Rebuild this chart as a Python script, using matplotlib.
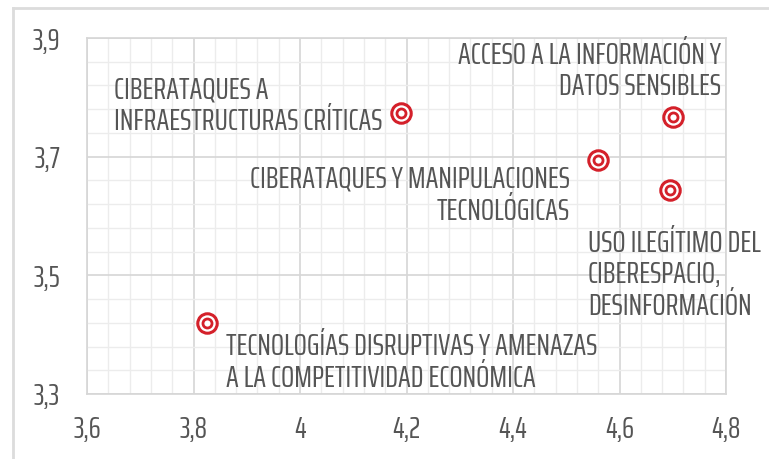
import matplotlib
matplotlib.use("Agg")
import matplotlib.pyplot as plt
from matplotlib.lines import Line2D
from matplotlib.ticker import MultipleLocator, FuncFormatter

# riesgos: probabilidad (x) frente a impacto (y)
labels = [
    "CIBERATAQUES A\nINFRAESTRUCTURAS CRÍTICAS",
    "ACCESO A LA INFORMACIÓN Y\nDATOS SENSIBLES",
    "CIBERATAQUES Y MANIPULACIONES\nTECNOLÓGICAS",
    "USO ILEGÍTIMO DEL\nCIBERESPACIO,\nDESINFORMACIÓN",
    "TECNOLOGÍAS DISRUPTIVAS Y AMENAZAS\nA LA COMPETITIVIDAD ECONÓMICA",
]
x_vals = [4.19, 4.70, 4.56, 4.695, 3.825]
y_vals = [3.774, 3.767, 3.694, 3.644, 3.42]

# colocación de cada etiqueta (desplazamiento en píxeles, alineación)
label_pos = [
    ((-19, 7), "right", "left"),
    ((48, 46), "right", "right"),
    ((-28, -35), "right", "right"),
    ((-82, -85), "left", "left"),
    ((19, -40), "left", "left"),
]

RED = "#d4202a"
TXT = "#555555"
FONT = ["Saira ExtraCondensed", "DejaVu Sans"]

plt.rcParams["font.family"] = FONT

fig = plt.figure(figsize=(7.69, 4.59), dpi=100)
ax = fig.add_axes([87 / 769, 1 - 394 / 459, 639 / 769, 356 / 459])

ax.set_xlim(3.6, 4.8)
ax.set_ylim(3.3, 3.9)
ax.xaxis.set_major_locator(MultipleLocator(0.2))
ax.xaxis.set_minor_locator(MultipleLocator(0.04))
ax.yaxis.set_major_locator(MultipleLocator(0.2, offset=0.1))
ax.yaxis.set_minor_locator(MultipleLocator(0.04, offset=0.02))

fmt = FuncFormatter(lambda v, p: ("%g" % round(v, 2)).replace(".", ","))
ax.xaxis.set_major_formatter(fmt)
ax.yaxis.set_major_formatter(fmt)

ax.grid(which="major", color="#d6d6d6", linewidth=1.2)
ax.grid(which="minor", color="#ececec", linewidth=1.0)
ax.set_axisbelow(True)
for s in ax.spines.values():
    s.set_color("#d6d6d6")
    s.set_linewidth(1.2)

ax.tick_params(which="both", length=0)
ax.tick_params(axis="x", pad=15, labelsize=22, labelcolor=TXT)
ax.tick_params(axis="y", pad=19.5, labelsize=22, labelcolor=TXT)

# diana: anillo exterior + anillo interior
ax.plot(x_vals, y_vals, linestyle="none", marker="o", markersize=14,
        markerfacecolor="white", markeredgecolor=RED, markeredgewidth=2.2,
        zorder=3)
ax.plot(x_vals, y_vals, linestyle="none", marker="o", markersize=6.5,
        markerfacecolor="white", markeredgecolor=RED, markeredgewidth=2.0,
        zorder=4)

for lab, x, y, (off, ha, ma) in zip(labels, x_vals, y_vals, label_pos):
    ax.annotate(lab, (x, y), xytext=off, textcoords="offset pixels",
                ha=ha, va="center", multialignment=ma, fontsize=22.5,
                color=TXT, linespacing=1.12, zorder=5)

# marco exterior (solo borde izquierdo y superior)
fig.add_artist(Line2D([13 / 769, 13 / 769], [0, 1 - 8 / 459],
                      transform=fig.transFigure, color="#dcdcdc", lw=2))
fig.add_artist(Line2D([13 / 769, 1], [1 - 8 / 459, 1 - 8 / 459],
                      transform=fig.transFigure, color="#dcdcdc", lw=2))

fig.savefig("out.png", dpi=100)
